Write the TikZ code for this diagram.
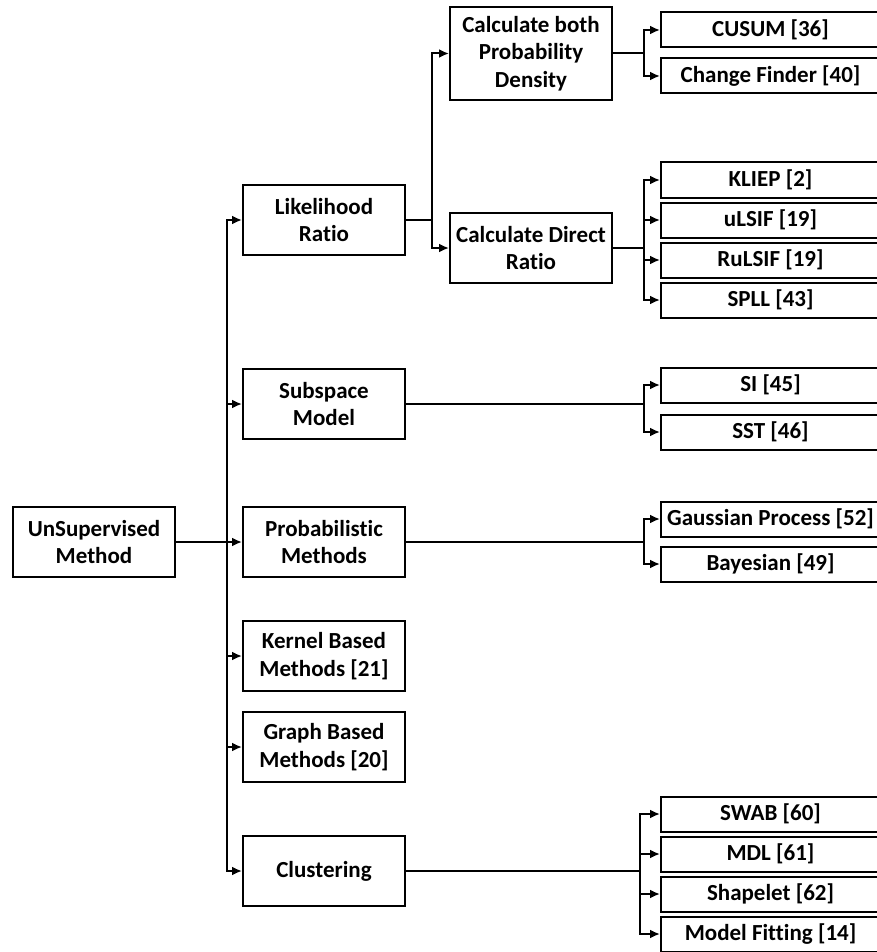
\documentclass[tikz,border=0pt]{standalone}
\usepackage{fontspec}
\setmainfont[Ligatures=NoCommon]{Carlito}
\usetikzlibrary{arrows.meta}
\begin{document}
\begin{tikzpicture}[x=1pt,y=-1pt,
  box/.style={draw, line width=2pt, align=center, inner sep=0pt,
    font=\fontsize{23}{27.5}\selectfont\bfseries},
  midbox/.style={box, minimum width=162pt, minimum height=70pt},
  leaf/.style={box, minimum width=219pt, minimum height=35pt},
  conn/.style={line width=2pt},
  arr/.style={conn, -{Latex[length=10pt,width=9pt]}}]
\useasboundingbox (0,0) rectangle (876,952);
% root
\node[midbox] (root) at (94,542) {UnSupervised\\Method};
% level 2
\node[midbox] (LR) at (324,220) {Likelihood\\Ratio};
\node[midbox] (SM) at (324,404) {Subspace\\Model};
\node[midbox] (PM) at (324,542) {Probabilistic\\Methods};
\node[midbox] (KB) at (324,656) {Kernel Based\\Methods [21]};
\node[midbox] (GB) at (324,747) {Graph Based\\Methods [20]};
\node[midbox] (CL) at (324,871) {Clustering};
% level 3
\node[midbox, minimum height=93pt] (CB) at (531,53.5) {Calculate both\\Probability\\Density};
\node[midbox] (CD) at (531,248) {Calculate Direct\\Ratio};
% leaves
\node[leaf] (cusum) at (770.5,30) {CUSUM [36]};
\node[leaf] (cf) at (770.5,76) {Change Finder [40]};
\node[leaf] (kliep) at (770.5,180) {KLIEP [2]};
\node[leaf] (ulsif) at (770.5,220) {uLSIF [19]};
\node[leaf] (rulsif) at (770.5,260) {RuLSIF [19]};
\node[leaf] (spll) at (770.5,300) {SPLL [43]};
\node[leaf] (si) at (770.5,385) {SI [45]};
\node[leaf] (sst) at (770.5,432) {SST [46]};
\node[leaf] (gp) at (770.5,519) {Gaussian Process [52]};
\node[leaf] (bay) at (770.5,564) {Bayesian [49]};
\node[leaf] (swab) at (770.5,814) {SWAB [60]};
\node[leaf] (mdl) at (770.5,854) {MDL [61]};
\node[leaf] (shp) at (770.5,894) {Shapelet [62]};
\node[leaf] (mf) at (770.5,934) {Model Fitting [14]};
% junction columns
\coordinate (j1) at (227,0);
\coordinate (j2) at (432,0);
\coordinate (j3) at (644,0);
\coordinate (j4) at (640,0);
% root -> level 2
\foreach \t in {LR,SM,PM,KB,GB,CL}
  \draw[arr] (root.east) -- (root.east -| j1) |- (\t.west);
% LR -> level 3
\foreach \t in {CB,CD}
  \draw[arr] (LR.east) -- (LR.east -| j2) |- (\t.west);
% CB -> leaves
\foreach \t in {cusum,cf}
  \draw[arr] (CB.east) -- (CB.east -| j3) |- (\t.west);
% CD -> leaves
\foreach \t in {kliep,ulsif,rulsif,spll}
  \draw[arr] (CD.east) -- (CD.east -| j3) |- (\t.west);
% SM -> leaves
\foreach \t in {si,sst}
  \draw[arr] (SM.east) -- (SM.east -| j3) |- (\t.west);
% PM -> leaves
\foreach \t in {gp,bay}
  \draw[arr] (PM.east) -- (PM.east -| j3) |- (\t.west);
% CL -> leaves
\foreach \t in {swab,mdl,shp,mf}
  \draw[arr] (CL.east) -- (CL.east -| j4) |- (\t.west);
\end{tikzpicture}
\end{document}
